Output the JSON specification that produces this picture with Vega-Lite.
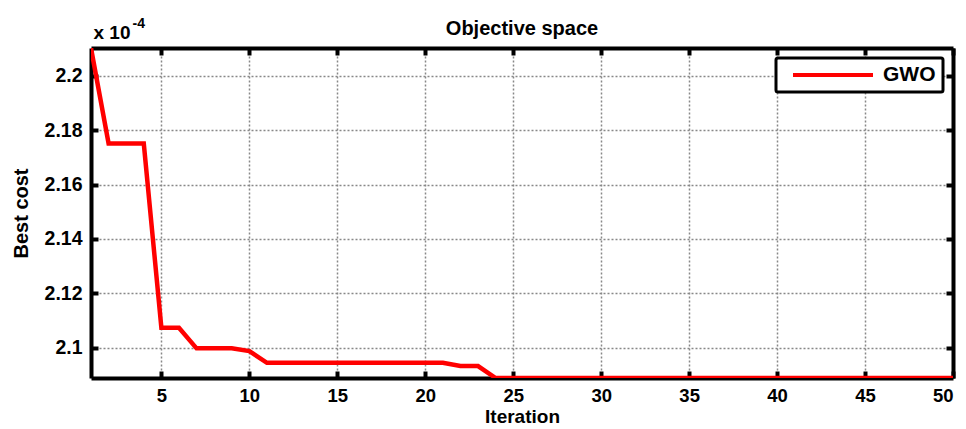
{
  "$schema": "https://vega.github.io/schema/vega-lite/v6.json",
  "width": 862,
  "height": 330,
  "autosize": {"type": "none"},
  "padding": {"left": 91, "top": 48, "right": 13, "bottom": 51},
  "background": "white",
  "config": {
    "font": "Liberation Sans",
    "view": {"stroke": null},
    "axis": {
      "domainColor": "black",
      "domainWidth": 4,
      "tickColor": "black",
      "tickWidth": 4,
      "tickSize": -7,
      "labelFont": "Liberation Sans",
      "labelFontWeight": "bold",
      "labelFontSize": 19.5,
      "labelColor": "black",
      "titleFont": "Liberation Sans",
      "titleFontWeight": "bold",
      "titleFontSize": 20,
      "titleColor": "black",
      "gridColor": "#888888",
      "gridDash": [2, 2],
      "gridWidth": 1.5,
      "gridOpacity": 1
    },
    "legend": {
      "strokeColor": "black",
      "strokeWidth": 3,
      "cornerRadius": 2,
      "fillColor": "white",
      "padding": 7,
      "labelFont": "Liberation Sans",
      "labelFontWeight": "bold",
      "labelFontSize": 21,
      "labelColor": "black",
      "symbolType": "stroke",
      "symbolSize": 6400,
      "symbolStrokeWidth": 4,
      "symbolOffset": 8,
      "clipHeight": 20,
      "labelOffset": 8
    }
  },
  "title": {
    "text": "Objective space",
    "font": "Liberation Sans",
    "fontSize": 20,
    "fontWeight": "bold",
    "color": "black",
    "anchor": "middle",
    "offset": 14,
    "dy": 37
  },
  "data": {
    "values": [
      {"iteration": 1, "cost": 0.00022102, "series": "GWO"},
      {"iteration": 2, "cost": 0.00021751, "series": "GWO"},
      {"iteration": 3, "cost": 0.00021751, "series": "GWO"},
      {"iteration": 4, "cost": 0.00021751, "series": "GWO"},
      {"iteration": 5, "cost": 0.00021074, "series": "GWO"},
      {"iteration": 6, "cost": 0.00021074, "series": "GWO"},
      {"iteration": 7, "cost": 0.00020998, "series": "GWO"},
      {"iteration": 8, "cost": 0.00020998, "series": "GWO"},
      {"iteration": 9, "cost": 0.00020998, "series": "GWO"},
      {"iteration": 10, "cost": 0.00020988, "series": "GWO"},
      {"iteration": 11, "cost": 0.00020945, "series": "GWO"},
      {"iteration": 12, "cost": 0.00020945, "series": "GWO"},
      {"iteration": 13, "cost": 0.00020945, "series": "GWO"},
      {"iteration": 14, "cost": 0.00020945, "series": "GWO"},
      {"iteration": 15, "cost": 0.00020945, "series": "GWO"},
      {"iteration": 16, "cost": 0.00020945, "series": "GWO"},
      {"iteration": 17, "cost": 0.00020945, "series": "GWO"},
      {"iteration": 18, "cost": 0.00020945, "series": "GWO"},
      {"iteration": 19, "cost": 0.00020945, "series": "GWO"},
      {"iteration": 20, "cost": 0.00020945, "series": "GWO"},
      {"iteration": 21, "cost": 0.00020945, "series": "GWO"},
      {"iteration": 22, "cost": 0.00020933, "series": "GWO"},
      {"iteration": 23, "cost": 0.00020933, "series": "GWO"},
      {"iteration": 24, "cost": 0.00020889, "series": "GWO"},
      {"iteration": 25, "cost": 0.00020889, "series": "GWO"},
      {"iteration": 26, "cost": 0.00020889, "series": "GWO"},
      {"iteration": 27, "cost": 0.00020889, "series": "GWO"},
      {"iteration": 28, "cost": 0.00020889, "series": "GWO"},
      {"iteration": 29, "cost": 0.00020889, "series": "GWO"},
      {"iteration": 30, "cost": 0.00020889, "series": "GWO"},
      {"iteration": 31, "cost": 0.00020889, "series": "GWO"},
      {"iteration": 32, "cost": 0.00020889, "series": "GWO"},
      {"iteration": 33, "cost": 0.00020889, "series": "GWO"},
      {"iteration": 34, "cost": 0.00020889, "series": "GWO"},
      {"iteration": 35, "cost": 0.00020889, "series": "GWO"},
      {"iteration": 36, "cost": 0.00020889, "series": "GWO"},
      {"iteration": 37, "cost": 0.00020889, "series": "GWO"},
      {"iteration": 38, "cost": 0.00020889, "series": "GWO"},
      {"iteration": 39, "cost": 0.00020889, "series": "GWO"},
      {"iteration": 40, "cost": 0.00020889, "series": "GWO"},
      {"iteration": 41, "cost": 0.00020889, "series": "GWO"},
      {"iteration": 42, "cost": 0.00020889, "series": "GWO"},
      {"iteration": 43, "cost": 0.00020889, "series": "GWO"},
      {"iteration": 44, "cost": 0.00020889, "series": "GWO"},
      {"iteration": 45, "cost": 0.00020889, "series": "GWO"},
      {"iteration": 46, "cost": 0.00020889, "series": "GWO"},
      {"iteration": 47, "cost": 0.00020889, "series": "GWO"},
      {"iteration": 48, "cost": 0.00020889, "series": "GWO"},
      {"iteration": 49, "cost": 0.00020889, "series": "GWO"},
      {"iteration": 50, "cost": 0.00020889, "series": "GWO"}
    ]
  },
  "layer": [
    {
      "mark": {"type": "line", "opacity": 0, "clip": true},
      "encoding": {
        "x": {
          "field": "iteration",
          "type": "quantitative",
          "scale": {"domain": [1, 50], "nice": false, "zero": false},
          "axis": {
            "orient": "top",
            "values": [5, 10, 15, 20, 25, 30, 35, 40, 45, 50],
            "labels": false,
            "grid": false,
            "title": "x 10",
            "titleAnchor": "start",
            "titleAlign": "left",
            "titleBaseline": "alphabetic",
            "titleX": 2,
            "titleY": -10,
            "titleFontSize": 19
          }
        },
        "y": {
          "field": "cost",
          "type": "quantitative",
          "scale": {"domain": [0.00020889, 0.00022102], "nice": false, "zero": false},
          "axis": {
            "orient": "right",
            "values": [0.00021, 0.000212, 0.000214, 0.000216, 0.000218, 0.00022],
            "labels": false,
            "grid": false,
            "title": null
          }
        }
      }
    },
    {
      "mark": {"type": "line", "opacity": 0, "clip": true},
      "encoding": {
        "x": {
          "field": "iteration",
          "type": "quantitative",
          "scale": {"domain": [1, 50], "nice": false, "zero": false},
          "axis": {
            "orient": "top",
            "domain": false,
            "ticks": false,
            "labels": false,
            "grid": false,
            "title": "-4",
            "titleAnchor": "start",
            "titleAlign": "left",
            "titleBaseline": "alphabetic",
            "titleX": 41,
            "titleY": -21,
            "titleFontSize": 14
          }
        },
        "y": {
          "field": "cost",
          "type": "quantitative",
          "scale": {"domain": [0.00020889, 0.00022102], "nice": false, "zero": false},
          "axis": null
        }
      }
    },
    {
      "mark": {"type": "line", "color": "#ff0000", "strokeWidth": 4.5, "clip": true},
      "encoding": {
        "x": {
          "field": "iteration",
          "type": "quantitative",
          "scale": {"domain": [1, 50], "nice": false, "zero": false},
          "axis": {
            "orient": "bottom",
            "values": [5, 10, 15, 20, 25, 30, 35, 40, 45, 50],
            "grid": true,
            "labelFontSize": 18.5,
            "labelPadding": 15,
            "title": "Iteration",
            "titleFontSize": 19,
            "titlePadding": 3
          }
        },
        "y": {
          "field": "cost",
          "type": "quantitative",
          "scale": {"domain": [0.00020889, 0.00022102], "nice": false, "zero": false},
          "axis": {
            "orient": "left",
            "values": [0.00021, 0.000212, 0.000214, 0.000216, 0.000218, 0.00022],
            "labelExpr": "format(datum.value * 10000, '.2~f')",
            "grid": true,
            "labelPadding": 16,
            "title": "Best cost",
            "titlePadding": 13
          }
        },
        "color": {
          "field": "series",
          "type": "nominal",
          "scale": {"range": ["#ff0000"]},
          "legend": {"title": null, "orient": "top-right", "offset": 10}
        }
      }
    }
  ],
  "resolve": {"axis": {"x": "independent", "y": "independent"}}
}
